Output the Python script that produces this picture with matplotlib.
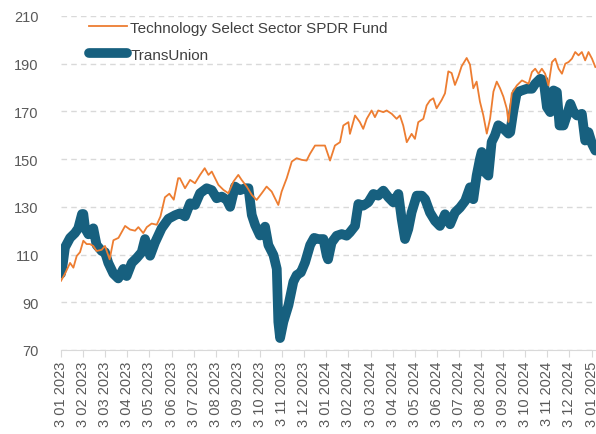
import matplotlib
matplotlib.use("Agg")
import matplotlib.pyplot as plt

# time in months since 1 Jan 2023 (rebased to ~100)
tu_t = [0, 0.08, 0.18, 0.41, 0.63, 0.78, 0.95, 1.01, 1.09, 1.24, 1.46, 1.61, 1.84, 1.99,
        2.14, 2.37, 2.59, 2.82, 2.97, 3.2, 3.42, 3.65, 3.8, 4.03, 4.25, 4.55, 4.86, 5.16,
        5.38, 5.61, 5.84, 6.06, 6.29, 6.59, 6.82, 7.04, 7.27, 7.5, 7.65, 7.87, 8.1, 8.33,
        8.48, 8.63, 8.78, 9.0, 9.23, 9.38, 9.61, 9.76, 9.83, 9.91, 10.06, 10.29, 10.51,
        10.66, 10.85, 11.04, 11.27, 11.45, 11.64, 11.87, 12.02, 12.08, 12.24, 12.47, 12.7,
        12.92, 13.07, 13.3, 13.45, 13.67, 13.9, 14.13, 14.35, 14.58, 14.81, 15.03, 15.26,
        15.41, 15.56, 15.71, 15.86, 16.09, 16.32, 16.47, 16.69, 16.92, 17.14, 17.37, 17.6,
        17.82, 18.05, 18.28, 18.5, 18.65, 18.8, 18.95, 19.03, 19.18, 19.33, 19.48, 19.63,
        19.78, 20.01, 20.24, 20.32, 20.46, 20.62, 20.85, 21.07, 21.3, 21.45, 21.68, 21.83,
        21.98, 22.13, 22.28, 22.43, 22.55, 22.73, 22.88, 23.04, 23.19, 23.34, 23.56, 23.71,
        23.86, 24.02, 24.17]
tu_v = [102, 106, 113, 117, 119, 121, 127, 127, 121, 118.5, 121, 114, 111.5, 111,
        106.5, 102, 100, 104, 101, 106.5, 108.5, 111, 116.5, 109.5, 115, 121, 125, 126.5,
        127.3, 126, 131.5, 130.8, 135.7, 137.8, 137, 133.6, 134.3, 132.9, 130, 138.5, 137, 137.8,
        137.8, 126.6, 122.4, 118, 121.7, 114, 109.8, 104, 81.8, 75, 81.8, 88.8, 98.6,
        101.4, 102.5, 106.7, 114, 117, 116.5, 116.5, 109.5, 108, 115, 117.9, 118.6,
        117.9, 119.3, 122, 131.2, 130.5, 131.9, 135.4, 134.7, 136.8, 134, 131.9, 135.4,
        124.9, 116.5, 120.7, 127.7, 134.7, 134.7, 133.2, 127.6, 124.1, 122, 126.9, 122.7,
        127.6, 129.7, 132.5, 138.2, 133.2, 143.1, 150.1, 153, 144.5, 143.1, 157.2, 160,
        164.2, 162.8, 160.7, 161.3, 170, 178, 178.8, 179.5, 179.5, 181.6, 183.7, 183,
        171.8, 169.7, 178.8, 178.1, 164.1, 164.1, 168.3, 173.2, 169.7, 168.3, 169, 157.8,
        161.3, 156.4, 153.6]

xlk_t = [0, 0.18, 0.41, 0.56, 0.71, 0.86, 1.01, 1.16, 1.31, 1.46, 1.61, 1.84, 1.99, 2.2,
         2.37, 2.6, 2.9, 3.12, 3.35, 3.5, 3.72, 3.88, 4.1, 4.33, 4.5, 4.7, 4.9, 5.1, 5.3,
         5.38, 5.61, 5.84, 6.06, 6.29, 6.5, 6.67, 6.82, 6.97, 7.12, 7.35, 7.57, 7.8, 8.02,
         8.17, 8.4, 8.63, 8.85, 9.08, 9.3, 9.53, 9.68, 9.83, 9.98, 10.21, 10.44, 10.66,
         10.89, 11.11, 11.26, 11.49, 11.71, 11.94, 12.17, 12.39, 12.62, 12.77, 13.0, 13.07,
         13.3, 13.52, 13.67, 13.83, 14.05, 14.2, 14.35, 14.58, 14.73, 14.96, 15.18, 15.33,
         15.48, 15.64, 15.86, 16.01, 16.16, 16.39, 16.54, 16.69, 16.84, 16.99, 17.22, 17.37,
         17.52, 17.67, 17.82, 17.97, 18.12, 18.35, 18.5, 18.65, 18.8, 18.95, 19.1, 19.26,
         19.41, 19.56, 19.71, 19.86, 20.01, 20.16, 20.24, 20.39, 20.54, 20.62, 20.85, 21.0,
         21.15, 21.3, 21.45, 21.6, 21.75, 21.9, 22.05, 22.21, 22.36, 22.51, 22.66, 22.81,
         22.96, 23.11, 23.26, 23.41, 23.56, 23.71, 23.86, 24.02, 24.17]
xlk_v = [99, 102, 106.5, 104.5, 109.4, 111, 115.8, 114.4, 114.4, 113.6, 111.5, 112, 113.6, 108,
         116, 117, 122, 120.5, 120, 121.5, 119, 121.5, 123, 122.5, 126, 134, 135.5, 133, 142,
         142, 137.8, 141.3, 139.9, 143.4, 146.2, 143.4, 144.8, 142, 139.2, 137.1, 135.7, 140.6, 143.4,
         141.3, 138.5, 135, 132.9, 135.7, 138.5, 136.4, 133.6, 130.8, 136.4, 142, 149, 150.4,
         149.7, 149.4, 152.2, 155.7, 155.7, 155.7, 149.4, 155.7, 157.1, 164.1, 165.5, 160.6,
         168.3, 165.5, 162.7, 166.9, 170.4, 167.6, 170.4, 169.7, 170.4, 169, 166.9, 168.3,
         164.1, 157.1, 160.6, 158.5, 165.5, 166.9, 172.5, 174.6, 175.5, 171.3, 174.8, 177.6,
         186.8, 186.1, 181.1, 184.6, 188.9, 192.4, 189.6, 179.7, 182.5, 174.1, 168.5, 160.7,
         167, 178.3, 182.5, 179.7, 176.2, 171.3, 165.6, 177.6, 179.7, 180.9, 183, 182.3,
         181.6, 186.5, 187.9, 185.8, 187.9, 185.8, 180.9, 190.7, 192.1, 187.9, 185.8, 190,
         190.7, 192.1, 194.9, 193.5, 194.9, 191.4, 194.9, 192.1, 188.6]

tick_labels = ["3 %02d %d" % (m % 12 + 1, 2023 + m // 12) for m in range(25)]

plt.rcParams['font.family'] = ['Liberation Sans', 'DejaVu Sans']

fig = plt.figure(figsize=(5.96, 4.35), dpi=100)
ax = fig.add_axes([61 / 596, 84 / 435, 535 / 596, 334 / 435])

ax.plot(xlk_t, xlk_v, color="#ED7D31", lw=1.3, zorder=3, label="Technology Select Sector SPDR Fund")
ax.plot(tu_t, tu_v, color="#17607F", lw=7, solid_capstyle="round", solid_joinstyle="round",
        zorder=2, label="TransUnion")

ax.set_xlim(0, 24.2)
ax.set_ylim(70, 210)
ax.set_yticks(range(70, 211, 20))
ax.set_xticks(range(25))
ax.set_xticklabels(tick_labels, rotation=90)

ax.grid(axis="y", color="#d9d9d9", linestyle=(0, (4, 3)), lw=1)
ax.set_axisbelow(True)
for s in ["top", "right", "left"]:
    ax.spines[s].set_visible(False)
ax.spines["bottom"].set_color("#d9d9d9")
ax.tick_params(axis="y", length=0, pad=16, labelsize=10.5, labelcolor="#595959")
ax.tick_params(axis="x", length=5, color="#d9d9d9", pad=3, labelsize=10.5, labelcolor="#595959")

ax.legend(loc="upper left", bbox_to_anchor=(0.027, 1.027), frameon=False, fontsize=11,
          handlelength=2.5, handletextpad=0.2, labelspacing=0.85, labelcolor="#404040")

fig.savefig("out.png", dpi=100)
